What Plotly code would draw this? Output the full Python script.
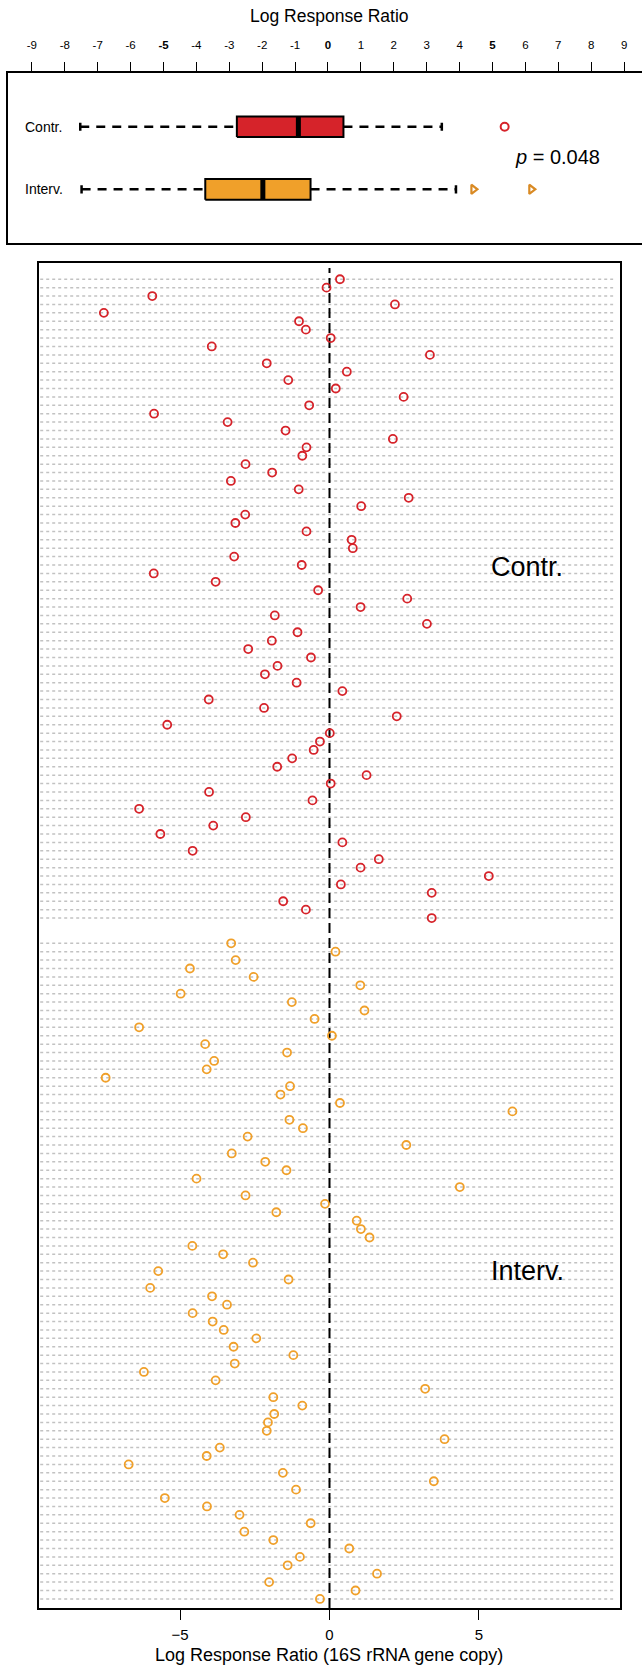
import plotly.graph_objects as go

# ---------------- data ----------------
contr_values = [0.35, -0.10, -5.93, 2.19, -7.55, -1.02, -0.79, 0.04, -3.94, 3.36,
                -2.10, 0.58, -1.38, 0.21, 2.48, -0.68, -5.87, -3.41, -1.47, 2.12,
                -0.77, -0.91, -2.81, -1.92, -3.30, -1.03, 2.65, 1.06, -2.82, -3.15,
                -0.77, 0.74, 0.78, -3.19, -0.93, -5.88, -3.81, -0.38, 2.60, 1.04,
                -1.83, 3.26, -1.07, -1.93, -2.72, -0.62, -1.74, -2.16, -1.10, 0.43,
                -4.04, -2.19, 2.25, -5.43, 0.01, -0.32, -0.53, -1.25, -1.75, 1.24,
                0.04, -4.03, -0.57, -6.37, -2.80, -3.89, -5.66, 0.43, -4.58, 1.65,
                1.04, 5.33, 0.38, 3.42, -1.55, -0.79, 3.42]

interv_values = [-3.29, 0.20, -3.14, -4.67, -2.54, 1.03, -4.98, -1.26, 1.17, -0.50,
                 -6.37, 0.08, -4.16, -1.42, -3.86, -4.11, -7.49, -1.32, -1.64, 0.35,
                 6.12, -1.34, -0.89, -2.74, 2.57, -3.27, -2.15, -1.44, -4.45, 4.36,
                 -2.81, -0.15, -1.78, 0.91, 1.05, 1.34, -4.59, -3.56, -2.56, -5.73,
                 -1.37, -6.00, -3.93, -3.43, -4.58, -3.91, -3.54, -2.45, -3.21, -1.21,
                 -3.17, -6.21, -3.81, 3.20, -1.88, -0.91, -1.85, -2.06, -2.10, 3.85,
                 -3.67, -4.11, -6.72, -1.56, 3.49, -1.12, -5.51, -4.10, -3.01, -0.63,
                 -2.85, -1.88, 0.66, -0.99, -1.40, 1.59, -2.02, 0.87, -0.32]

group_labels = ["Contr.", "Interv."]

# box-plot summary (top panel), order: Contr., Interv.
box_low = [-7.53, -7.49]
box_q1 = [-2.77, -3.73]
box_median = [-0.90, -1.98]
box_q3 = [0.47, -0.53]
box_high = [3.46, 3.89]
contr_outliers = [5.37]
interv_outliers = [4.42, 6.18]
p_label = "<i>p</i> = 0.048"

top_tickvals = list(range(-9, 10))
top_ticktext = [("<b>%d</b>" % v) if v in (-5, 0, 5) else str(v) for v in top_tickvals]
bottom_tickvals = [-5, 0, 5]
top_title = "Log Response Ratio"
bottom_title = "Log Response Ratio (16S rRNA gene copy)"

# ---------------- styling ----------------
W, H = 642, 1667
RED = "#d6232a"
ORANGE = "#f0a02a"
TRI = "#d98a24"
FONT = "Liberation Sans, Arial, sans-serif"


def fx(p):
    return p / W


def fy(p):
    return 1 - p / H


X_RANGE = [-9.72, 9.72]
ROW_SPAN = [-9.68, 9.49]
GAP_ROWS = 2

contr_rows = list(range(len(contr_values)))
interv_start = len(contr_values) + GAP_ROWS
interv_rows = [interv_start + j for j in range(len(interv_values))]
n_rows = interv_start + len(interv_values)
Y2_RANGE = [n_rows + 0.08, -1.99]
ZERO_SPAN = [n_rows + 0.08, -1.35]

fig = go.Figure()

# ---- bottom panel: row guide lines ----
lx, ly = [], []
for r in contr_rows + interv_rows:
    lx += [ROW_SPAN[0], ROW_SPAN[1], None]
    ly += [r, r, None]
fig.add_trace(go.Scatter(x=lx, y=ly, mode="lines", xaxis="x2", yaxis="y2",
                         line=dict(color="#c2c2c2", width=1.5, dash="3px,3px"),
                         hoverinfo="skip"))
# zero line
fig.add_trace(go.Scatter(x=[0, 0], y=ZERO_SPAN, mode="lines", xaxis="x2", yaxis="y2",
                         line=dict(color="black", width=2, dash="10px,5px"),
                         hoverinfo="skip"))
# points
fig.add_trace(go.Scatter(x=contr_values, y=contr_rows, mode="markers", xaxis="x2", yaxis="y2",
                         marker=dict(symbol="circle-open", size=8, color=RED,
                                     line=dict(width=1.8, color=RED))))
fig.add_trace(go.Scatter(x=interv_values, y=interv_rows, mode="markers", xaxis="x2", yaxis="y2",
                         marker=dict(symbol="circle-open", size=8, color=ORANGE,
                                     line=dict(width=1.8, color=ORANGE))))

# ---- top panel: box plots ----
group_pos = [2, 1]
fills = [RED, ORANGE]
HB = 0.165
HC = 0.065
for i, yp in enumerate(group_pos):
    # whiskers
    fig.add_trace(go.Scatter(x=[box_low[i], box_q1[i], None, box_q3[i], box_high[i]],
                             y=[yp, yp, None, yp, yp], mode="lines", xaxis="x", yaxis="y",
                             line=dict(color="black", width=2.5, dash="9px,7px"),
                             hoverinfo="skip"))
    # caps
    fig.add_trace(go.Scatter(x=[box_low[i], box_low[i], None, box_high[i], box_high[i]],
                             y=[yp - HC, yp + HC, None, yp - HC, yp + HC], mode="lines",
                             xaxis="x", yaxis="y", line=dict(color="black", width=2.5),
                             hoverinfo="skip"))
    # box
    fig.add_trace(go.Scatter(x=[box_q1[i], box_q3[i], box_q3[i], box_q1[i], box_q1[i]],
                             y=[yp - HB, yp - HB, yp + HB, yp + HB, yp - HB],
                             mode="lines", fill="toself", fillcolor=fills[i],
                             xaxis="x", yaxis="y", line=dict(color="black", width=2),
                             hoverinfo="skip"))
    # median
    fig.add_trace(go.Scatter(x=[box_median[i], box_median[i]], y=[yp - HB, yp + HB],
                             mode="lines", xaxis="x", yaxis="y",
                             line=dict(color="black", width=5), hoverinfo="skip"))

fig.add_trace(go.Scatter(x=contr_outliers, y=[group_pos[0]] * len(contr_outliers),
                         mode="markers", xaxis="x", yaxis="y",
                         marker=dict(symbol="circle-open", size=8, color=RED,
                                     line=dict(width=2, color=RED))))
fig.add_trace(go.Scatter(x=interv_outliers, y=[group_pos[1]] * len(interv_outliers),
                         mode="markers", xaxis="x", yaxis="y",
                         marker=dict(symbol="triangle-right-open", size=8, color=TRI,
                                     line=dict(width=2.2, color=TRI))))

annotations = [
    dict(text=top_title, x=fx(329), y=fy(16), xref="paper", yref="paper",
         xanchor="center", yanchor="middle", showarrow=False,
         font=dict(size=17.5, color="black", family=FONT)),
    dict(text=group_labels[0], x=fx(23), y=group_pos[0], xref="paper", yref="y",
         xanchor="left", yanchor="middle", showarrow=False,
         font=dict(size=14, color="black", family=FONT)),
    dict(text=group_labels[1], x=fx(23), y=group_pos[1], xref="paper", yref="y",
         xanchor="left", yanchor="middle", showarrow=False,
         font=dict(size=14, color="black", family=FONT)),
    dict(text=p_label, x=fx(557), y=fy(157), xref="paper", yref="paper",
         xanchor="center", yanchor="middle", showarrow=False,
         font=dict(size=20, color="black", family=FONT)),
    dict(text=group_labels[0], x=fx(489), y=fy(567), xref="paper", yref="paper",
         xanchor="left", yanchor="middle", showarrow=False,
         font=dict(size=27, color="black", family=FONT)),
    dict(text=group_labels[1], x=fx(489), y=fy(1271), xref="paper", yref="paper",
         xanchor="left", yanchor="middle", showarrow=False,
         font=dict(size=27, color="black", family=FONT)),
    dict(text=bottom_title, x=fx(329), y=fy(1655), xref="paper", yref="paper",
         xanchor="center", yanchor="middle", showarrow=False,
         font=dict(size=18, color="black", family=FONT)),
]

fig.update_layout(
    width=W, height=H,
    margin=dict(l=0, r=0, t=0, b=0),
    paper_bgcolor="white", plot_bgcolor="white",
    showlegend=False,
    font=dict(family=FONT, color="black"),
    annotations=annotations,
    xaxis=dict(domain=[fx(8.2), 1], anchor="y", side="top",
               range=[X_RANGE[0], X_RANGE[0] + (642 - 8.2) / 32.9],
               tickmode="array", tickvals=top_tickvals, ticktext=top_ticktext,
               ticks="outside", ticklen=9, tickwidth=1.3, tickcolor="black",
               ticklabelstandoff=8,
               tickfont=dict(size=11.5, family=FONT, color="black"),
               showline=True, linecolor="black", linewidth=2, mirror=True,
               showgrid=False, zeroline=False, fixedrange=True),
    yaxis=dict(domain=[fy(242.7), fy(72.7)], anchor="x", range=[0.147, 2.863],
               showline=True, linecolor="black", linewidth=2, mirror=False,
               showticklabels=False, ticks="", showgrid=False, zeroline=False),
    xaxis2=dict(domain=[fx(39), fx(620)], anchor="y2", range=X_RANGE,
                tickmode="array", tickvals=bottom_tickvals,
                ticks="outside", ticklen=10, tickwidth=1.3, tickcolor="black",
                ticklabelstandoff=2,
                tickfont=dict(size=15, family=FONT, color="black"),
                showline=True, linecolor="black", linewidth=1.5, mirror=True,
                showgrid=False, zeroline=False),
    yaxis2=dict(domain=[fy(1608), fy(262.5)], anchor="x2", range=Y2_RANGE,
                showline=True, linecolor="black", linewidth=1.5, mirror=True,
                showticklabels=False, ticks="", showgrid=False, zeroline=False),
)

fig.write_html("out.html", config={"displayModeBar": False},
               post_script="document.body.style.margin='0';document.body.style.overflow='hidden';")
